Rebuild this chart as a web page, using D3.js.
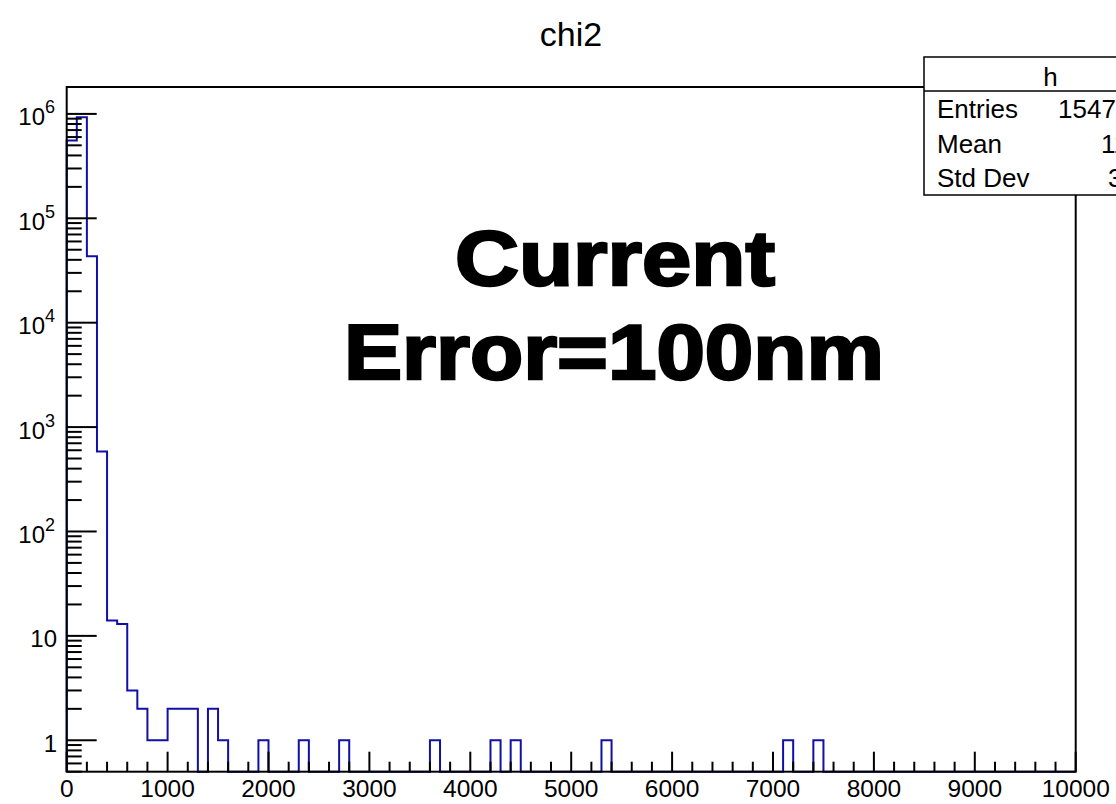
<!DOCTYPE html>
<html>
<head>
<meta charset="utf-8">
<script src="https://cdn.jsdelivr.net/npm/d3@7"></script>
<style>
  body { margin: 0; background: #fff; }
  svg { display: block; }
  text { font-family: "Liberation Sans", Arial, sans-serif; }
</style>
</head>
<body>
<svg id="chart" width="1116" height="804"></svg>
<script>
// histogram "h" of chi2, 100 bins of width 100 from 0 to 10000
const xMin = 0, xMax = 10000, binWidth = 100;
// left edge of every non-empty bin, and its content
const binStart = [0, 100, 200, 300, 400, 500, 600, 700, 800, 900, 1000, 1100, 1200,
                  1400, 1500, 1900, 2300, 2700, 3600, 4200, 4400, 5300, 7100, 7400];
const binCount = [557000, 930000, 43300, 583, 14, 13, 3, 2, 1, 1, 2, 2, 2,
                  2, 1, 1, 1, 1, 1, 1, 1, 1, 1, 1];
const xTickValues = [0, 1000, 2000, 3000, 4000, 5000, 6000, 7000, 8000, 9000, 10000];
const yDecades = [0, 1, 2, 3, 4, 5, 6];
const statNames = ["Entries", "Mean", "Std Dev"];
const statValues = ["1547328", "116.5", "35.8"];

const svg = d3.select("#chart");

// frame of the pad
const frameL = 66.7, frameR = 1075.7, frameT = 87, frameB = 771.7;

const x = d3.scaleLinear().domain([xMin, xMax]).range([frameL, frameR]);
const y = d3.scaleLog().domain([0.5, 1.81e6]).range([frameB, frameT]);

// build all bins, empty ones stay at 0
let counts = d3.range(xMin, xMax, binWidth).map(() => 0);
binStart.forEach((s, i) => { counts[Math.round(s / binWidth)] = binCount[i]; });

// step outline, empty bins sit on the bottom of the frame
let pts = [[x(xMin), frameB]];
counts.forEach((c, i) => {
    let yv = c > 0 ? y(c) : frameB;
    pts.push([x(i * binWidth), yv]);
    pts.push([x((i + 1) * binWidth), yv]);
});
pts.push([x(xMax), frameB]);

svg.append("path")
    .attr("d", d3.line()(pts))
    .attr("fill", "none")
    .attr("stroke", "#1010a8")
    .attr("stroke-width", 2);

// frame
svg.append("rect")
    .attr("x", frameL).attr("y", frameT)
    .attr("width", frameR - frameL).attr("height", frameB - frameT)
    .attr("fill", "none")
    .attr("stroke", "#000")
    .attr("stroke-width", 2);

// x axis ticks: major every 1000, minor every 200
let xMinor = d3.range(xMin, xMax + 1, 200);
svg.append("g")
    .selectAll("line")
    .data(xMinor)
    .join("line")
    .attr("x1", d => x(d)).attr("x2", d => x(d))
    .attr("y1", frameB)
    .attr("y2", d => frameB - (d % 1000 === 0 ? 20 : 10))
    .attr("stroke", "#000")
    .attr("stroke-width", 2);

svg.append("g")
    .selectAll("text")
    .data(xTickValues)
    .join("text")
    .attr("x", d => x(d))
    .attr("y", 797)
    .attr("text-anchor", "middle")
    .attr("font-size", 24.5)
    .text(d => d);

// y axis ticks: decades long, 2..9 short
let yMinor = [];
[-1].concat(yDecades).forEach(p => {
    for (let k = 1; k <= 9; k++) {
        let v = k * Math.pow(10, p);
        if (v >= 0.5 && v <= 1.81e6) yMinor.push({ v: v, major: k === 1 });
    }
});
svg.append("g")
    .selectAll("line")
    .data(yMinor)
    .join("line")
    .attr("x1", frameL)
    .attr("x2", d => frameL + (d.major ? 30 : 15))
    .attr("y1", d => y(d.v)).attr("y2", d => y(d.v))
    .attr("stroke", "#000")
    .attr("stroke-width", 2);

// y labels: 1, 10, then 10^n
let yLab = svg.append("g")
    .selectAll("text")
    .data(yDecades)
    .join("text")
    .attr("x", 57)
    .attr("y", d => y(Math.pow(10, d)) + 11.5)
    .attr("text-anchor", "end")
    .attr("font-size", 24);
yLab.filter(d => d < 2).text(d => Math.pow(10, d));
yLab.filter(d => d >= 2)
    .attr("x", 55)
    .each(function(d) {
        let t = d3.select(this);
        t.append("tspan").text("10");
        t.append("tspan").attr("dy", -12).attr("font-size", 18).text(d);
    });

// title
svg.append("text")
    .attr("x", 571).attr("y", 46)
    .attr("text-anchor", "middle")
    .attr("font-size", 34)
    .text("chi2");

// stats box (runs off the right edge)
const sx = 924, sy = 57, sw = 253, sh = 138;
svg.append("rect")
    .attr("x", sx).attr("y", sy).attr("width", sw).attr("height", sh)
    .attr("fill", "#fff").attr("stroke", "#000").attr("stroke-width", 1.5);
svg.append("line")
    .attr("x1", sx).attr("x2", sx + sw).attr("y1", 91).attr("y2", 91)
    .attr("stroke", "#000").attr("stroke-width", 1.5);
svg.append("text")
    .attr("x", sx + sw / 2).attr("y", 86)
    .attr("text-anchor", "middle").attr("font-size", 26)
    .text("h");
let rowY = [118, 153, 187];
let valueX = [1058, 1101, 1108];
svg.append("g").selectAll("text")
    .data(statNames).join("text")
    .attr("x", 937).attr("y", (d, i) => rowY[i])
    .attr("font-size", 26).text(d => d);
svg.append("g").selectAll("text")
    .data(statValues).join("text")
    .attr("x", (d, i) => valueX[i]).attr("y", (d, i) => rowY[i])
    .attr("font-size", 26).text(d => d);

// big overlay label
const bigFont = "Lato, 'DejaVu Sans', sans-serif";
svg.append("text")
    .attr("x", 455).attr("y", 285)
    .attr("font-family", bigFont).attr("font-weight", 900).attr("font-size", 78)
    .attr("stroke", "#000").attr("stroke-width", 2.5)
    .attr("textLength", 320).attr("lengthAdjust", "spacingAndGlyphs")
    .text("Current");
svg.append("text")
    .attr("x", 344).attr("y", 379)
    .attr("font-family", bigFont).attr("font-weight", 900).attr("font-size", 78)
    .attr("stroke", "#000").attr("stroke-width", 2.5)
    .attr("textLength", 540).attr("lengthAdjust", "spacingAndGlyphs")
    .text("Error=100nm");
</script>
</body>
</html>
